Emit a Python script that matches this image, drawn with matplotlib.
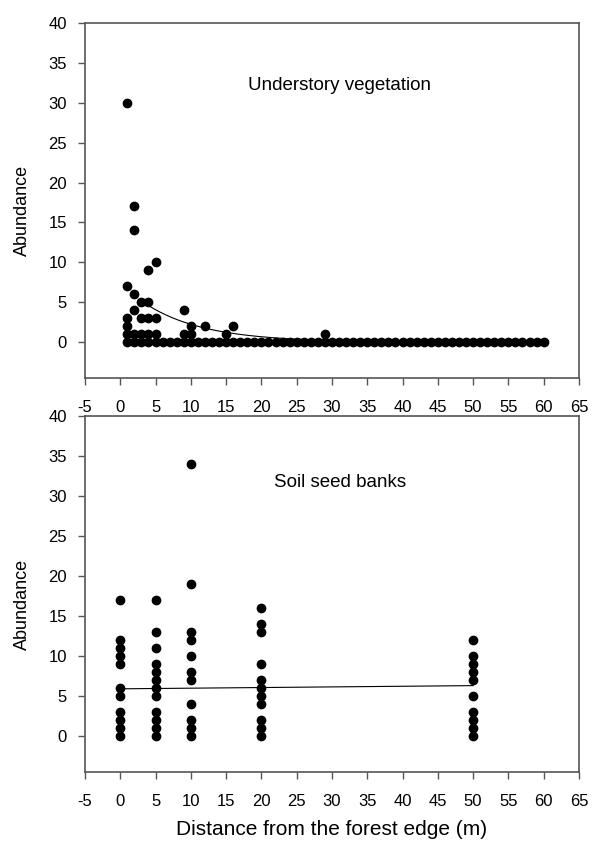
import numpy as np
import matplotlib.pyplot as plt

plt.rcParams['font.family'] = ['Liberation Sans', 'DejaVu Sans']
plt.rcParams['axes.unicode_minus'] = False

# Understory vegetation: distance (m) and abundance
veg_zero_x = list(range(1, 61))
veg_x = [1, 2, 2, 4, 5, 1, 2, 3, 4, 2, 9, 1, 3, 4, 5, 1, 10, 12, 16,
         1, 2, 3, 4, 5, 9, 10, 15, 29]
veg_y = [30, 17, 14, 9, 10, 7, 6, 5, 5, 4, 4, 3, 3, 3, 3, 2, 2, 2, 2,
         1, 1, 1, 1, 1, 1, 1, 1, 1]
# exponential fit y = a * exp(-b x), drawn from x = 4
veg_fit_a, veg_fit_b = 7.4, 0.12
veg_fit_range = (4, 60)

# Soil seed banks: abundance per sampled distance
seed_dist = [0, 5, 10, 20, 50]
seed_vals = [
    [17, 12, 11, 10, 9, 6, 5, 3, 2, 1, 0],
    [17, 13, 11, 9, 8, 7, 6, 5, 3, 2, 1, 0],
    [34, 19, 13, 12, 10, 8, 7, 4, 2, 1, 0],
    [16, 14, 13, 9, 7, 6, 5, 4, 2, 1, 0],
    [12, 10, 9, 8, 7, 5, 3, 2, 1, 0],
]
# linear fit y = c + d x
seed_fit_c, seed_fit_d = 5.9, 0.008

fig = plt.figure(figsize=(5.93, 8.43), dpi=100)
ax1 = fig.add_axes([0.1433, 0.5516, 0.833, 0.4211])
ax2 = fig.add_axes([0.1433, 0.0842, 0.833, 0.4223])

def style(ax):
    ax.set_xlim(-5, 65)
    ax.set_ylim(-4.5, 40)
    ax.set_xticks(np.arange(-5, 66, 5))
    ax.set_yticks(np.arange(0, 41, 5))
    ax.tick_params(direction='out', length=5, width=1, color='#555555',
                   labelsize=12)
    ax.tick_params(axis='x', pad=11)
    ax.tick_params(axis='y', pad=8)
    for s in ax.spines.values():
        s.set_color('#555555')
        s.set_linewidth(1.2)
    ax.set_ylabel('Abundance', fontsize=13)
    ax.yaxis.set_label_coords(-0.11, 0.472)

# top panel
ax1.plot(veg_zero_x, np.zeros(len(veg_zero_x)), 'o', color='black',
         markersize=6, clip_on=False)
ax1.plot(veg_x, veg_y, 'o', color='black', markersize=6)
xf = np.linspace(veg_fit_range[0], veg_fit_range[1], 200)
ax1.plot(xf, veg_fit_a * np.exp(-veg_fit_b * xf), color='black', lw=0.8)
ax1.text(18.1, 31.6, 'Understory vegetation', fontsize=13.5, va='baseline')
style(ax1)

# bottom panel
for d, vals in zip(seed_dist, seed_vals):
    ax2.plot([d] * len(vals), vals, 'o', color='black', markersize=6)
xl = np.array([seed_dist[0], seed_dist[-1]])
ax2.plot(xl, seed_fit_c + seed_fit_d * xl, color='black', lw=0.8)
ax2.text(21.8, 31.1, 'Soil seed banks', fontsize=13.5, va='baseline')
style(ax2)

fig.text(332 / 593, (843 - 835) / 843, 'Distance from the forest edge (m)',
         fontsize=15, ha='center', va='baseline')

fig.savefig('out.png', dpi=100)
